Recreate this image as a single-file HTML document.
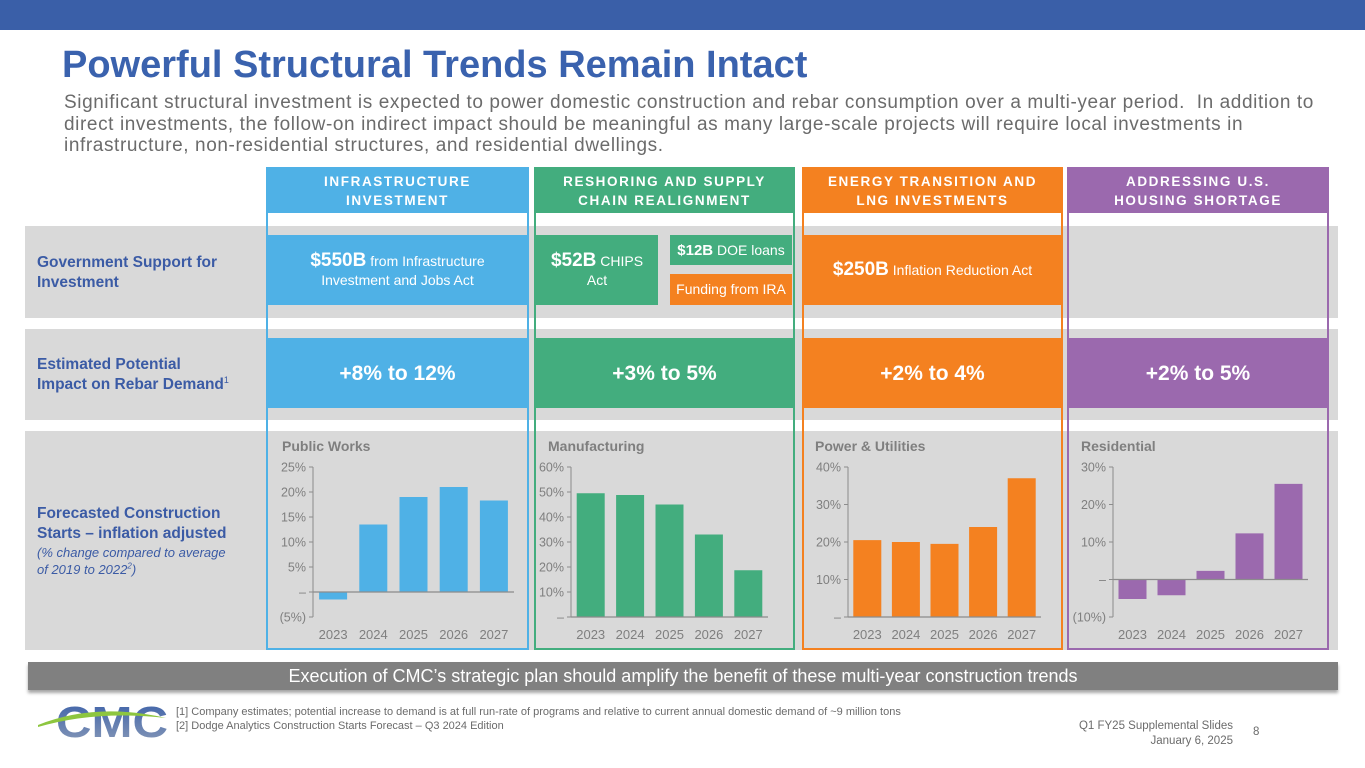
<!DOCTYPE html>
<html><head><meta charset="utf-8">
<style>
*{margin:0;padding:0;box-sizing:border-box}
body{width:1365px;height:768px;position:relative;background:#fff;font-family:"Liberation Sans",sans-serif;overflow:hidden}
.a{position:absolute}
.band{position:absolute;left:25px;width:1313px;background:#d9d9d9}
.hdr{position:absolute;top:167px;height:46px;color:#fff;font-size:13.5px;font-weight:bold;letter-spacing:1.6px;text-align:center;line-height:19px;padding-top:5px}
.col{position:absolute;top:167px;height:483px;border:2px solid}
.box{position:absolute;color:#fff;display:flex;align-items:center;justify-content:center;text-align:center;font-size:14px;line-height:19px}
.big{font-size:19px;font-weight:bold}
.imp{font-size:21px;font-weight:bold}
.lab{position:absolute;left:37px;color:#3b5ba5;font-weight:bold;font-size:15.5px;line-height:20px}
sup{line-height:0}
</style></head><body>
<div class="a" style="left:0;top:0;width:1365px;height:30px;background:#3a5fa8"></div>
<div class="a" style="left:62px;top:44px;font-size:38px;font-weight:bold;color:#3a62ae">Powerful Structural Trends Remain Intact</div>
<div class="a" style="left:64px;top:92px;white-space:nowrap;font-size:19px;letter-spacing:0.6px;line-height:21.5px;color:#6b6b6b">Significant structural investment is expected to power domestic construction and rebar consumption over a multi-year period.&nbsp; In addition to<br>direct investments, the follow-on indirect impact should be meaningful as many large-scale projects will require local investments in<br>infrastructure, non-residential structures, and residential dwellings.</div>

<div class="band" style="top:226px;height:92px"></div>
<div class="band" style="top:329px;height:91px"></div>
<div class="band" style="top:431px;height:219px"></div>

<div class="lab" style="top:253px">Government Support for<br>Investment</div>
<div class="lab" style="top:355px">Estimated Potential<br>Impact on Rebar Demand<sup style="font-size:9px;font-weight:normal">1</sup></div>
<div class="lab" style="top:504px">Forecasted Construction<br>Starts – inflation adjusted<br><span style="font-size:13px;font-style:italic;font-weight:normal;line-height:17px;display:block">(% change compared to average<br>of 2019 to 2022<sup style="font-size:8px">2</sup>)</span></div>

<div class="hdr" style="left:268px;width:259px;background:#4fb1e6">INFRASTRUCTURE<br>INVESTMENT</div>
<div class="hdr" style="left:536px;width:257px;background:#43ad7e">RESHORING AND SUPPLY<br>CHAIN REALIGNMENT</div>
<div class="hdr" style="left:804px;width:257px;background:#f48120">ENERGY TRANSITION AND<br>LNG INVESTMENTS</div>
<div class="hdr" style="left:1069px;width:258px;background:#9b69ae">ADDRESSING U.S.<br>HOUSING SHORTAGE</div>

<div class="box" style="left:268px;top:235px;width:259px;height:70px;background:#4fb1e6"><div><span class="big">$550B</span> from Infrastructure<br>Investment and Jobs Act</div></div>
<div class="box" style="left:536px;top:235px;width:122px;height:70px;background:#43ad7e"><div><span class="big">$52B</span> CHIPS<br>Act</div></div>
<div class="box" style="left:670px;top:235px;width:122px;height:30px;background:#43ad7e"><div><b style="font-size:15px">$12B</b> DOE loans</div></div>
<div class="box" style="left:670px;top:274px;width:122px;height:31px;background:#f48120">Funding from IRA</div>
<div class="box" style="left:804px;top:235px;width:257px;height:70px;background:#f48120"><div><span class="big">$250B</span> Inflation Reduction Act</div></div>

<div class="box imp" style="left:268px;top:338px;width:259px;height:70px;background:#4fb1e6">+8% to 12%</div>
<div class="box imp" style="left:536px;top:338px;width:257px;height:70px;background:#43ad7e">+3% to 5%</div>
<div class="box imp" style="left:804px;top:338px;width:257px;height:70px;background:#f48120">+2% to 4%</div>
<div class="box imp" style="left:1069px;top:338px;width:258px;height:70px;background:#9b69ae">+2% to 5%</div>

<div class="col" style="left:266px;width:263px;border-color:#4fb1e6"></div>
<div class="col" style="left:534px;width:261px;border-color:#43ad7e"></div>
<div class="col" style="left:802px;width:261px;border-color:#f48120"></div>
<div class="col" style="left:1067px;width:262px;border-color:#9b69ae"></div>

<svg class="a" id="charts" style="left:0;top:0" width="1365" height="768"></svg>

<div class="a" style="left:28px;top:662px;width:1310px;height:28px;background:#808080;color:#fff;font-size:18px;text-align:center;line-height:28px;box-shadow:0 3px 3px rgba(0,0,0,0.35)">Execution of CMC’s strategic plan should amplify the benefit of these multi-year construction trends</div>

<svg class="a" style="left:36px;top:698px" width="136" height="42">
<defs><linearGradient id="lg" x1="0" y1="0" x2="0" y2="1"><stop offset="0" stop-color="#3a5fa8"/><stop offset="1" stop-color="#8a9bb8"/></linearGradient></defs>
<text x="20" y="39" font-family="Liberation Sans Narrow, Liberation Sans" font-weight="bold" font-size="44" fill="url(#lg)" textLength="112" lengthAdjust="spacingAndGlyphs">CMC</text>
<path d="M2 27 Q60 4 130 20 Q60 12 2 29Z" fill="#8dc63f"/>
</svg>
<div class="a" style="left:176px;top:705px;font-size:11px;line-height:14px;color:#6b6b6b">[1] Company estimates; potential increase to demand is at full run-rate of programs and relative to current annual domestic demand of ~9 million tons<br>[2] Dodge Analytics Construction Starts Forecast – Q3 2024 Edition</div>
<div class="a" style="left:1000px;top:719px;width:233px;text-align:right;font-size:11.5px;line-height:15px;color:#6b6b6b">Q1 FY25 Supplemental Slides<br>January 6, 2025</div>
<div class="a" style="left:1253px;top:726px;font-size:11.5px;color:#6b6b6b">8</div>

<script>
const years = ["2023","2024","2025","2026","2027"];
const publicWorks = [-1.5, 13.5, 19, 21, 18.3];
const manufacturing = [49.5, 48.8, 45, 33, 18.7];
const powerUtilities = [20.5, 20, 19.5, 24, 37];
const residential = [-5.2, -4.2, 2.3, 12.3, 25.5];
const pwTicks = [-5, 0, 5, 10, 15, 20, 25];
const mfTicks = [0, 10, 20, 30, 40, 50, 60];
const puTicks = [0, 10, 20, 30, 40];
const resTicks = [-10, 0, 10, 20, 30];

const NS = "http://www.w3.org/2000/svg";
const svg = document.getElementById("charts");
function mk(tag, attrs, parent){
  const e = document.createElementNS(NS, tag);
  for (const k in attrs) e.setAttribute(k, attrs[k]);
  (parent||svg).appendChild(e);
  return e;
}
function fmt(v){ return v===0 ? "–" : (v<0 ? "("+(-v)+"%)" : v+"%"); }
function chart(key, title, vals, ticks, color, axisX, titleX, endX){
  const g = mk("g", {});
  
  
  const top = 467, bot = 617;
  const min = ticks[0], max = ticks[ticks.length-1];
  const y = v => bot - (v - min) / (max - min) * (bot - top);
  const step = (endX - axisX) / years.length;
  const xc = i => axisX + step * (i + 0.5);
  const t = mk("text", {x:titleX, y:451, "font-size":14, "font-weight":"bold", fill:"#7f7f7f"}, g);
  t.textContent = title;
  
  
  mk("line", {x1:axisX, x2:axisX, y1:top, y2:bot, stroke:"#8c8c8c", "stroke-width":1}, g);
  ticks.forEach(v => {
    mk("line", {x1:axisX-4, x2:axisX, y1:y(v), y2:y(v), stroke:"#8c8c8c"}, g);
    const tl = mk("text", {x:axisX-7, y:y(v)+4.5, "font-size":12.5, fill:"#7f7f7f", "text-anchor":"end"}, g);
    tl.textContent = fmt(v);
    
    
  });
  vals.forEach((v, i) => {
    const y0 = y(0), yv = y(v);
    const r = mk("rect", {x:xc(i)-14, width:28, y:Math.min(y0,yv), height:Math.abs(yv-y0), fill:color}, g);
    
    
    const xl = mk("text", {x:xc(i), y:639, "font-size":13, fill:"#7f7f7f", "text-anchor":"middle"}, g);
    xl.textContent = years[i];
    
    
  });
  mk("line", {x1:axisX, x2:endX, y1:y(0), y2:y(0), stroke:"#8c8c8c", "stroke-width":1.2}, g);
}
chart("public-works", "Public Works", publicWorks, pwTicks, "#4fb1e6", 313, 282, 514);
chart("manufacturing", "Manufacturing", manufacturing, mfTicks, "#43ad7e", 571, 548, 768);
chart("power-utilities", "Power & Utilities", powerUtilities, puTicks, "#f48120", 848, 815, 1041);
chart("residential", "Residential", residential, resTicks, "#9b69ae", 1113, 1081, 1308);
</script>
</body></html>
